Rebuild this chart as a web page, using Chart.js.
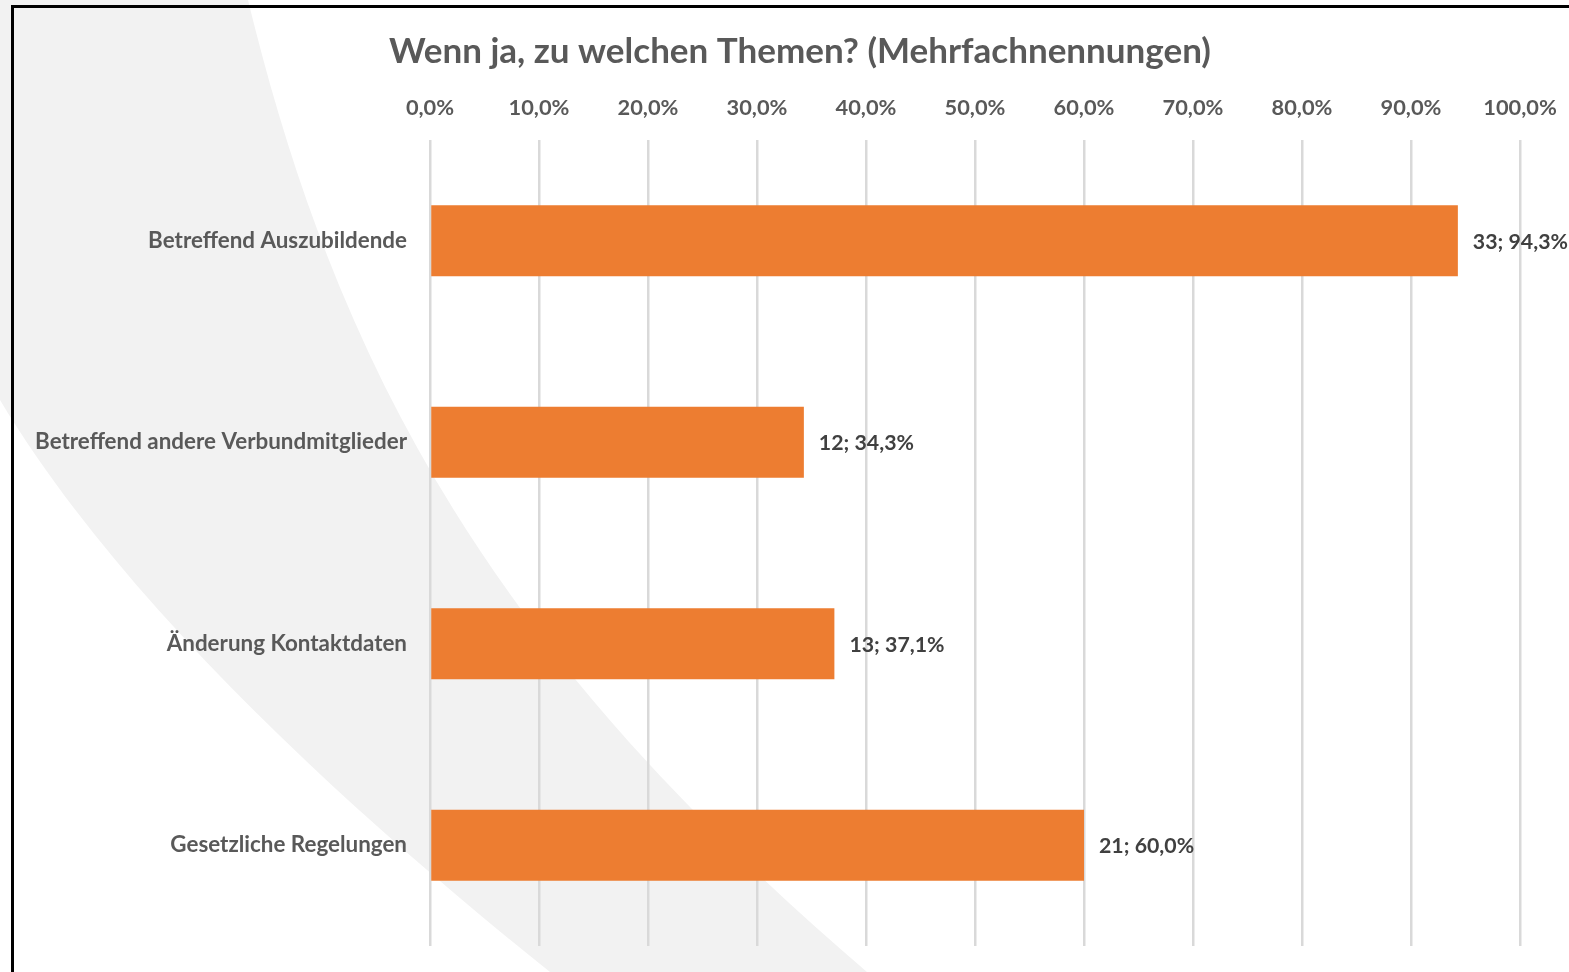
<!DOCTYPE html>
<html><head><meta charset="utf-8">
<script src="https://cdn.jsdelivr.net/npm/chart.js@4/dist/chart.umd.min.js"></script>
<style>
html,body{margin:0;padding:0;background:#fff;width:1569px;height:972px;overflow:hidden;}
#bg{position:absolute;left:0;top:0;}
#frame{position:absolute;left:11px;top:5px;width:1600px;height:1000px;border-left:3.5px solid #000;border-top:3.5px solid #000;}
#wrap{position:absolute;left:0;top:0;width:1569px;height:972px;}
</style></head><body>
<svg id="bg" width="1569" height="972"><path d="M-20,-10 L246,-10 L248,0 C345,400 515,670 867,972 L550,972 C325,792 114,590 0,400 L-20,370 Z" fill="#f2f2f2"/></svg>
<div id="frame"></div>
<div id="wrap"><canvas id="c" width="1569" height="972"></canvas></div>
<script>
const categories = ['Betreffend Auszubildende', 'Betreffend andere Verbundmitglieder', 'Änderung Kontaktdaten', 'Gesetzliche Regelungen'];
const percentages = [94.3, 34.3, 37.1, 60.0];
const counts = [33, 12, 13, 21];
const axisMin = 0, axisMax = 100, axisStep = 10;
const titleText = 'Wenn ja, zu welchen Themen? (Mehrfachnennungen)';

const FONT = 'Lato, "Open Sans", sans-serif';
const fmtPct = v => v.toFixed(1).replace('.', ',') + '%';

const dataLabels = {
  id: 'dataLabels',
  afterLayout(chart) {
    // let the long category labels extend into the left layout padding
    chart.scales.y.left = 0;
  },
  afterDatasetsDraw(chart) {
    const ctx = chart.ctx;
    const meta = chart.getDatasetMeta(0);
    ctx.save();
    ctx.font = 'bold 21.3px ' + FONT;
    ctx.fillStyle = '#404040';
    ctx.textAlign = 'left';
    ctx.textBaseline = 'middle';
    meta.data.forEach((bar, i) => {
      ctx.fillText(counts[i] + '; ' + fmtPct(percentages[i]), bar.x + 15, bar.y + 1);
    });
    ctx.restore();
  }
};

new Chart(document.getElementById('c'), {
  type: 'bar',
  data: {
    labels: categories,
    datasets: [{
      data: percentages,
      backgroundColor: '#ED7D31',
      borderWidth: 0,
      categoryPercentage: 1,
      barPercentage: 0.352
    }]
  },
  plugins: [dataLabels],
  options: {
    indexAxis: 'y',
    responsive: false,
    animation: false,
    devicePixelRatio: 1,
    layout: { padding: { left: 80, right: 49, top: 0, bottom: 26 } },
    plugins: {
      legend: { display: false },
      tooltip: { enabled: false },
      title: {
        display: true,
        text: titleText,
        color: '#595959',
        font: { family: FONT, size: 35, weight: 'bold', lineHeight: 1.2 },
        padding: { top: 31, bottom: 0 }
      }
    },
    scales: {
      x: {
        position: 'top',
        min: axisMin, max: axisMax,
        ticks: {
          stepSize: axisStep,
          padding: 19,
          color: '#595959',
          font: { family: FONT, size: 21.8, weight: 'bold' },
          callback: v => fmtPct(v)
        },
        grid: { color: '#d9d9d9', lineWidth: 2.5, drawTicks: false },
        border: { display: false },
        afterFit(scale) { scale.height = 140 - 73; scale.paddingLeft = 0; scale.paddingRight = 0; }
      },
      y: {
        ticks: {
          padding: 23,
          color: '#595959',
          font: { family: FONT, size: 22.4, weight: 'bold' }
        },
        grid: { display: false, drawTicks: false },
        border: { display: false },
        afterFit(scale) { scale.width = 350; scale.paddingTop = 0; scale.paddingBottom = 0; }
      }
    }
  }
});
</script>
</body></html>
